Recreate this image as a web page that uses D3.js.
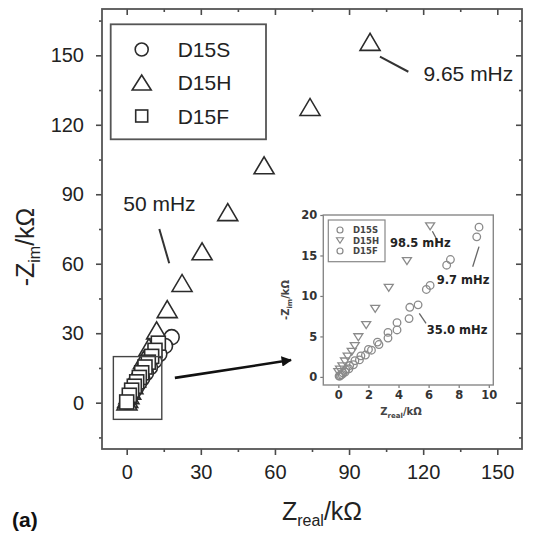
<!DOCTYPE html>
<html>
<head>
<meta charset="utf-8">
<script src="https://cdn.jsdelivr.net/npm/d3@7"></script>
<style>
  body { margin: 0; background: #fff; }
  svg { display: block; }
</style>
</head>
<body>
<script>
// Nyquist data, [Z_real (kΩ), -Z_im (kΩ)], low frequency first
const seriesNames = ["D15S", "D15H", "D15F"];

const d15hMain = [[98.5,155.8],[74.2,127.7],[55.6,102.5],[40.9,82.3],[30.5,65.4],[22.4,51.7],
  [16.4,40.4],[12.1,31.2],[9.0,24.0],[6.8,18.5],[5.0,14.0],[3.6,10.5],[2.5,7.6],[1.6,5.2],
  [0.9,3.2],[0.4,1.6],[0.1,0.5]];
const d15sMain = [[18.2,28.3],[15.5,24.5],[13.2,21.0],[11.2,18.0],[9.4,15.2],[7.8,12.8],
  [6.3,10.5],[5.0,8.5],[3.8,6.6],[2.8,4.9],[1.9,3.4],[1.2,2.2],[0.6,1.1],[0.2,0.4]];
const d15fMain = [[12.8,25.7],[11.45,22.6],[10.1,20.0],[8.74,17.5],[7.4,15.4],[6.07,12.9],
  [5.1,10.9],[4.05,9.0],[3.07,7.1],[2.0,5.4],[1.05,3.2],[0.0,0.3]];

// inset: high-frequency part, kΩ
const d15sInset = [[9.35,18.5],[7.45,14.5],[6.1,11.3],[4.75,8.6],[3.9,6.7],[3.3,5.5],[2.6,4.3],
  [2.0,3.4],[1.5,2.6],[1.1,2.0],[0.75,1.4],[0.5,0.9],[0.3,0.5],[0.15,0.25],[0.05,0.1]];
const d15hInset = [[6.1,18.6],[4.56,14.3],[3.35,11.0],[2.45,8.4],[1.85,6.4],[1.33,4.9],[1.09,3.8],
  [0.89,3.1],[0.62,2.5],[0.44,1.9],[0.27,1.3],[0.11,0.9],[0.0,0.6]];
const d15fInset = [[9.2,17.3],[7.2,13.8],[5.85,10.8],[5.3,8.9],[4.7,7.2],[3.9,5.8],[3.3,4.8],
  [2.7,4.0],[2.2,3.3],[1.8,2.7],[1.4,2.1],[1.0,1.5],[0.7,1.0],[0.45,0.6],[0.25,0.3],[0.1,0.1]];

const mainMajor = [0, 30, 60, 90, 120, 150];
const mainMinorX = [15, 45, 75, 105, 135];
const mainMinorY = [-15, 15, 45, 75, 105, 135, 165];
const insetTicksX = [0, 2, 4, 6, 8, 10];
const insetTicksY = [0, 5, 10, 15, 20];

// frequency callouts: text, anchor point of text, leader line end points (data units)
const mainNotes = [
  {text: "9.65 mHz", tx: 120.1, ty: 139.0, line: [[102.5,149.4],[114.0,142.9]]},
  {text: "50 mHz",   tx: -1.4,  ty: 82.8,  line: [[13.2,75.0],[17.2,60.2]]}
];
const insetNotes = [
  {text: "98.5 mHz", tx: 3.43, ty: 16.0, line: [[6.25,18.0],[6.65,16.6]]},
  {text: "9.7 mHz",  tx: 6.54, ty: 11.5, line: [[9.35,16.1],[8.93,13.6]]},
  {text: "35.0 mHz", tx: 5.87, ty: 5.3,  line: [[5.38,7.86],[5.83,6.62]]}
];

const W = 541, H = 533;
const svg = d3.select("body").append("svg").attr("width", W).attr("height", H)
  .style("font-family", "'Liberation Sans', Arial, sans-serif");

const x = d3.scaleLinear().domain([-10, 160]).range([102, 522]);
const y = d3.scaleLinear().domain([-20, 170]).range([449, 9]);

const ink = "#2b2b2b", axisCol = "#4a4a4a";

// marker shapes
function triUp(cx, cy, w, h) {
  return `M${cx - w/2},${cy + h/2}L${cx + w/2},${cy + h/2}L${cx},${cy - h/2}Z`;
}
function triDown(cx, cy, w, h) {
  return `M${cx - w/2},${cy - h/2}L${cx + w/2},${cy - h/2}L${cx},${cy + h/2}Z`;
}

// ---------- main axes ----------
function styleAxis(g) {
  g.selectAll(".domain").remove();
  g.selectAll("line").attr("stroke", axisCol).attr("stroke-width", 1.6);
  g.selectAll("text").attr("fill", "#222").style("font-size", "20px")
    .style("font-family", "'Liberation Sans', Arial, sans-serif");
}
svg.append("g").attr("transform", `translate(0,${y.range()[0]})`)
  .call(d3.axisBottom(x).tickValues(mainMajor).tickSize(6).tickPadding(10).tickFormat(d3.format("d")))
  .call(styleAxis);
svg.append("g").attr("transform", `translate(0,${y.range()[0]})`)
  .call(d3.axisBottom(x).tickValues(mainMinorX).tickSize(3).tickFormat(""))
  .call(styleAxis);
svg.append("g").attr("transform", `translate(${x.range()[0]},0)`)
  .call(d3.axisLeft(y).tickValues(mainMajor).tickSize(6).tickPadding(12).tickFormat(d3.format("d")))
  .call(styleAxis);
svg.append("g").attr("transform", `translate(${x.range()[0]},0)`)
  .call(d3.axisLeft(y).tickValues(mainMinorY).tickSize(3).tickFormat(""))
  .call(styleAxis);
// mirrored inward ticks on top and right
svg.append("g").attr("transform", `translate(0,${y.range()[1]})`)
  .call(d3.axisTop(x).tickValues(mainMajor).tickSize(-6).tickFormat(""))
  .call(styleAxis);
svg.append("g").attr("transform", `translate(0,${y.range()[1]})`)
  .call(d3.axisTop(x).tickValues(mainMinorX).tickSize(-3).tickFormat(""))
  .call(styleAxis);
svg.append("g").attr("transform", `translate(${x.range()[1]},0)`)
  .call(d3.axisRight(y).tickValues(mainMajor).tickSize(-6).tickFormat(""))
  .call(styleAxis);
svg.append("g").attr("transform", `translate(${x.range()[1]},0)`)
  .call(d3.axisRight(y).tickValues(mainMinorY).tickSize(-3).tickFormat(""))
  .call(styleAxis);

svg.append("rect")
  .attr("x", x.range()[0]).attr("y", y.range()[1])
  .attr("width", x.range()[1] - x.range()[0]).attr("height", y.range()[0] - y.range()[1])
  .attr("fill", "none").attr("stroke", "#555").attr("stroke-width", 1.8);

// axis titles
const xt = svg.append("text").attr("x", 322).attr("y", 520).attr("text-anchor", "middle")
  .attr("fill", "#222").style("font-size", "25px");
xt.append("tspan").text("Z");
xt.append("tspan").attr("dy", 6).style("font-size", "16px").text("real");
xt.append("tspan").attr("dy", -6).text("/kΩ");

const yt = svg.append("text").attr("transform", "translate(34,247) rotate(-90)")
  .attr("text-anchor", "middle").attr("fill", "#222").style("font-size", "25px");
yt.append("tspan").text("-Z");
yt.append("tspan").attr("dy", 6).style("font-size", "16px").text("im");
yt.append("tspan").attr("dy", -6).text("/kΩ");

svg.append("text").attr("x", 12).attr("y", 527).attr("fill", "#111")
  .style("font-size", "21px").style("font-weight", "bold").text("(a)");

// ---------- main data ----------
const mk = svg.append("g").attr("fill", "#fff").attr("stroke", ink).attr("stroke-width", 1.6);
mk.selectAll(".tri").data(d15hMain).join("path").attr("class", "tri")
  .attr("d", d => triUp(x(d[0]), y(d[1]), 20, 17));
mk.selectAll(".cir").data(d15sMain).join("circle").attr("class", "cir")
  .attr("cx", d => x(d[0])).attr("cy", d => y(d[1])).attr("r", 7.5);
mk.selectAll(".sq").data(d15fMain).join("rect").attr("class", "sq")
  .attr("x", d => x(d[0]) - 7).attr("y", d => y(d[1]) - 7).attr("width", 14).attr("height", 14);

// zoom window around the origin + pointer to inset
const zoomBox = {x0: -5.4, x1: 14.2, y0: -7.2, y1: 19.9};
svg.append("rect")
  .attr("x", x(zoomBox.x0)).attr("y", y(zoomBox.y1))
  .attr("width", x(zoomBox.x1) - x(zoomBox.x0)).attr("height", y(zoomBox.y0) - y(zoomBox.y1))
  .attr("fill", "none").attr("stroke", "#444").attr("stroke-width", 1.4);

svg.append("defs").append("marker").attr("id", "ah").attr("viewBox", "0 0 10 10")
  .attr("refX", 9).attr("refY", 5).attr("markerWidth", 4).attr("markerHeight", 4)
  .attr("orient", "auto").append("path").attr("d", "M0,0L10,5L0,10Z").attr("fill", "#111");
svg.append("line")
  .attr("x1", x(19.5)).attr("y1", y(10.7)).attr("x2", x(66.5)).attr("y2", y(18.4))
  .attr("stroke", "#111").attr("stroke-width", 2.6).attr("marker-end", "url(#ah)");

// callouts
mainNotes.forEach(n => {
  svg.append("line").attr("x1", x(n.line[0][0])).attr("y1", y(n.line[0][1]))
    .attr("x2", x(n.line[1][0])).attr("y2", y(n.line[1][1]))
    .attr("stroke", "#333").attr("stroke-width", 2);
  svg.append("text").attr("x", x(n.tx)).attr("y", y(n.ty)).attr("fill", "#222")
    .style("font-size", "21px").text(n.text);
});

// ---------- legend ----------
const lg = svg.append("g");
lg.append("rect").attr("x", 110.7).attr("y", 24.3).attr("width", 155.3).attr("height", 115)
  .attr("fill", "#fff").attr("stroke", "#555").attr("stroke-width", 1.8);
const rows = [49.5, 82.5, 116];
lg.append("circle").attr("cx", 141.7).attr("cy", rows[0]).attr("r", 6.5)
  .attr("fill", "none").attr("stroke", ink).attr("stroke-width", 1.6);
lg.append("path").attr("d", triUp(141.7, rows[1], 19, 15))
  .attr("fill", "none").attr("stroke", ink).attr("stroke-width", 1.6);
lg.append("rect").attr("x", 141.7 - 6).attr("y", rows[2] - 6).attr("width", 12).attr("height", 12)
  .attr("fill", "none").attr("stroke", ink).attr("stroke-width", 1.6);
seriesNames.forEach((s, i) => {
  lg.append("text").attr("x", 177.7).attr("y", rows[i] + 7.5).attr("fill", "#222")
    .style("font-size", "21px").text(s);
});

// ---------- inset ----------
const xi = d3.scaleLinear().domain([-1, 10.3]).range([323.3, 493.3]);
const yi = d3.scaleLinear().domain([-1, 20]).range([385, 215]);
const inFont = "'DejaVu Sans', Verdana, sans-serif";
const ins = svg.append("g");
function styleInset(g) {
  g.selectAll(".domain").remove();
  g.selectAll("line").attr("stroke", "#777").attr("stroke-width", 1.2);
  g.selectAll("text").attr("fill", "#333").style("font-size", "11.5px")
    .style("font-weight", "bold").style("font-family", inFont);
}
ins.append("g").attr("transform", `translate(0,${yi.range()[0]})`)
  .call(d3.axisBottom(xi).tickValues(insetTicksX).tickSize(3).tickPadding(3).tickFormat(d3.format("d")))
  .call(styleInset);
ins.append("g").attr("transform", `translate(${xi.range()[0]},0)`)
  .call(d3.axisLeft(yi).tickValues(insetTicksY).tickSize(3).tickPadding(3).tickFormat(d3.format("d")))
  .call(styleInset);
ins.append("rect").attr("x", xi.range()[0]).attr("y", yi.range()[1])
  .attr("width", xi.range()[1] - xi.range()[0]).attr("height", yi.range()[0] - yi.range()[1])
  .attr("fill", "none").attr("stroke", "#888").attr("stroke-width", 1.4);

const ixt = ins.append("text").attr("x", 401).attr("y", 415).attr("text-anchor", "middle")
  .attr("fill", "#444").style("font-size", "10px").style("font-weight", "bold").style("font-family", inFont);
ixt.append("tspan").text("Z");
ixt.append("tspan").attr("dy", 3).style("font-size", "7px").text("real");
ixt.append("tspan").attr("dy", -3).text("/kΩ");
const iyt = ins.append("text").attr("transform", "translate(289,300) rotate(-90)")
  .attr("text-anchor", "middle").attr("fill", "#444").style("font-size", "10px")
  .style("font-weight", "bold").style("font-family", inFont);
iyt.append("tspan").text("-Z");
iyt.append("tspan").attr("dy", 3).style("font-size", "7px").text("im");
iyt.append("tspan").attr("dy", -3).text("/kΩ");

const im = ins.append("g").attr("fill", "none").attr("stroke", "#8a8a8a").attr("stroke-width", 1.3);
im.selectAll(".ih").data(d15hInset).join("path").attr("class", "ih")
  .attr("d", d => triDown(xi(d[0]), yi(d[1]), 9, 7));
im.selectAll(".is").data(d15sInset).join("circle").attr("class", "is")
  .attr("cx", d => xi(d[0])).attr("cy", d => yi(d[1])).attr("r", 3.8);
im.selectAll(".if").data(d15fInset).join("circle").attr("class", "if")
  .attr("cx", d => xi(d[0])).attr("cy", d => yi(d[1])).attr("r", 3.8);

insetNotes.forEach(n => {
  ins.append("line").attr("x1", xi(n.line[0][0])).attr("y1", yi(n.line[0][1]))
    .attr("x2", xi(n.line[1][0])).attr("y2", yi(n.line[1][1]))
    .attr("stroke", "#666").attr("stroke-width", 1.3);
  ins.append("text").attr("x", xi(n.tx)).attr("y", yi(n.ty)).attr("fill", "#222")
    .style("font-size", "11.5px").style("font-weight", "bold").style("font-family", inFont)
    .text(n.text);
});

// inset legend
const il = ins.append("g");
il.append("rect").attr("x", 328.3).attr("y", 220).attr("width", 56.7).attr("height", 41.7)
  .attr("fill", "#fff").attr("stroke", "#888").attr("stroke-width", 1.2);
const irows = [230, 240.5, 251];
il.append("circle").attr("cx", 340).attr("cy", irows[0]).attr("r", 3)
  .attr("fill", "none").attr("stroke", "#888").attr("stroke-width", 1.2);
il.append("path").attr("d", triDown(340, irows[1], 7, 5.5))
  .attr("fill", "none").attr("stroke", "#888").attr("stroke-width", 1.2);
il.append("circle").attr("cx", 340).attr("cy", irows[2]).attr("r", 3)
  .attr("fill", "none").attr("stroke", "#888").attr("stroke-width", 1.2);
seriesNames.forEach((s, i) => {
  il.append("text").attr("x", 353).attr("y", irows[i] + 3).attr("fill", "#444")
    .style("font-size", "8.5px").style("font-weight", "bold").style("font-family", inFont).text(s);
});
</script>
</body>
</html>
